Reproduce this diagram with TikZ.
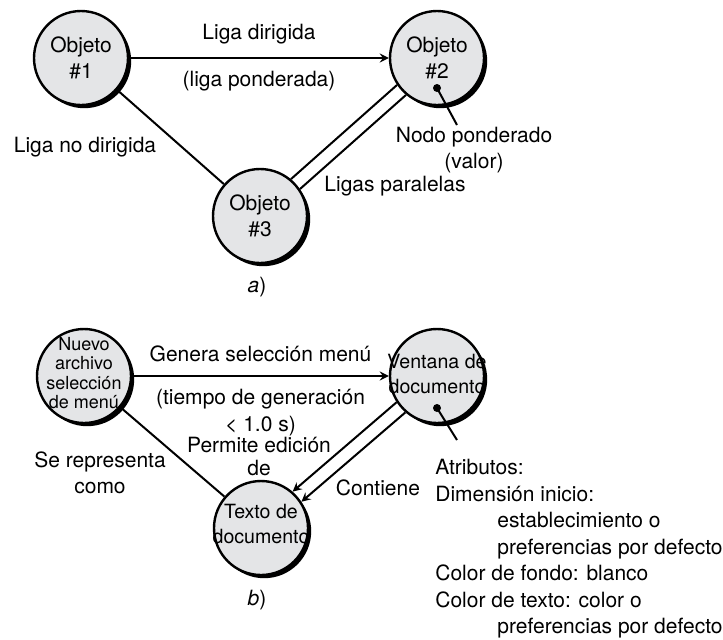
\documentclass[tikz,border=0pt]{standalone}
\usepackage{fontspec}
\setmainfont{TeX Gyre Heros}
\usetikzlibrary{shadows}
\definecolor{nodofondo}{RGB}{228,229,231}
\tikzset{
  objeto/.style={
    circle,
    draw=black,
    line width=1.2pt,
    fill=nodofondo,
    minimum size=47pt,
    inner sep=0pt,
    align=center,
    general shadow={fill=black, shadow xshift=1.6pt, shadow yshift=-1.6pt},
  },
  punto/.style={
    circle,
    fill=black,
    minimum size=4pt,
    inner sep=0pt,
  },
  liga/.style={line width=1pt},
}

\begin{document}
\begin{tikzpicture}[x=0.5pt, y=-0.5pt, font=\fontsize{10.5}{13.25}\selectfont]
    \useasboundingbox (0, 0) rectangle (723, 639);

    % a) objetos y ligas
    \node[objeto] (obj1) at (81, 58) {Objeto\\\#1};
    \node[objeto] (obj2) at (437, 58) {Objeto\\\#2};
    \node[objeto] (obj3) at (260, 216) {Objeto\\\#3};

    \draw[liga, arrows={-stealth}] (obj1) -- (obj2)
        node [midway, above=3pt] {Liga dirigida}
        node [midway, below=3pt] {(liga ponderada)};
    \draw[liga] (obj1) -- (obj3);
    \draw[liga] (obj3.50) -- (obj2.214);
    \draw[liga] (obj3.34) -- (obj2.230);

    \node (nodir) at (85, 147) {Liga no dirigida};
    \node (paral) at (395, 186) {Ligas paralelas};

    % Valor del nodo
    \node[punto] (valor) at (437, 88) {};
    \coordinate (valorfin) at (457, 125);
    \draw[liga] (valor.center) -- (valorfin);
    \node[align=center, font=\fontsize{10.5}{13}\selectfont] (ponde) at (474, 150) {Nodo ponderado\\(valor)};

    \node (parta) at (257, 287) {\textit{a})};

    % b) aplicacion
    \node[objeto, label={[align=center, font=\fontsize{9}{9.8}\selectfont, yshift=1.5pt]center:Nuevo\\archivo\\selección\\de menú}] (nuevo) at (84, 376) {};
    \node[objeto, label={[align=center, font=\fontsize{9.8}{12.5}\selectfont, yshift=1pt]center:Ventana de\\documento}] (ventana) at (437, 376) {};
    \node[objeto, label={[align=center, font=\fontsize{9.8}{12.5}\selectfont, yshift=2pt]center:Texto de\\documento}] (texto) at (261, 528) {};

    \draw[liga, arrows={-stealth}] (nuevo) -- (ventana)
        node [midway, above=3pt] {Genera selección menú}
        node [midway, below=3pt, align=center] {(tiempo de generación\\< 1.0 s)};
    \draw[liga] (nuevo) -- (texto);
    \draw[liga, arrows={-stealth}] (ventana.213) -- (texto.49);
    \draw[liga, arrows={-stealth}] (ventana.229) -- (texto.33);

    \node[align=center] (repre) at (100, 473) {Se representa\\como};
    \node[align=center, font=\fontsize{10.5}{11.5}\selectfont] (permite) at (259, 456) {Permite edición\\de};
    \node (contiene) at (378, 488) {Contiene};

    % Atributos de la ventana
    \node[punto] (atr) at (437, 408) {};
    \coordinate (atrfin) at (457, 440);
    \draw[liga] (atr.center) -- (atrfin);
    \node[anchor=north west, inner sep=0pt, align=left] (atributos) at (435, 459) {Atributos:\\Dimensión inicio:\\\hspace*{31pt}establecimiento o\\\hspace*{31pt}preferencias por defecto\\Color de fondo: blanco\\Color de texto: color o\\\hspace*{31pt}preferencias por defecto};

    \node (partb) at (257, 600) {\textit{b})};
\end{tikzpicture}
\end{document}
